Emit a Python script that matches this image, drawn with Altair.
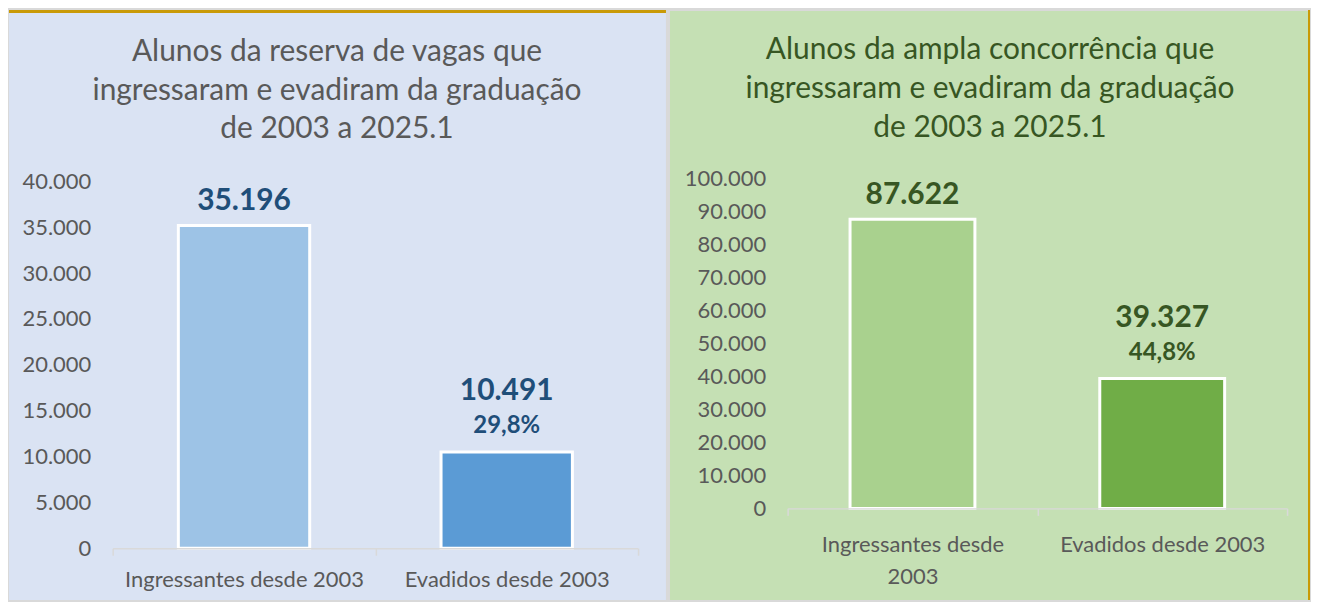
import altair as alt
import pandas as pd

FONT = "Lato"

CATEGORIES = ["Ingressantes desde 2003", "Evadidos desde 2003"]

RESERVA_VALUES = [35196, 10491]
RESERVA_PCT = ["", "29,8%"]
RESERVA_TICKS = [0, 5000, 10000, 15000, 20000, 25000, 30000, 35000, 40000]
RESERVA_TITLE = ["Alunos da reserva de vagas que",
                 "ingressaram e evadiram da graduação",
                 "de 2003 a 2025.1"]

AMPLA_VALUES = [87622, 39327]
AMPLA_PCT = ["", "44,8%"]
AMPLA_TICKS = [0, 10000, 20000, 30000, 40000, 50000, 60000, 70000, 80000, 90000, 100000]
AMPLA_TITLE = ["Alunos da ampla concorrência que",
               "ingressaram e evadiram da graduação",
               "de 2003 a 2025.1"]

AXIS_TEXT = "#595959"
GRID_GRAY = "#D9D9D9"
GOLD = "#C99A06"

PLOT_H = 368


def panel(values, pct, ticks, title_lines, colors, bg, title_color, label_color,
          w, y_range, box, title_xy, xlab_pad, label_expr=None,
          gold_top=None, gold_right=None):
    df = pd.DataFrame({"cat": CATEGORIES, "value": values, "pct": pct})
    base = alt.Chart(df)

    xaxis = dict(title=None, labelAngle=0, labelFont=FONT, labelFontSize=22,
                 labelColor=AXIS_TEXT, domainColor=GRID_GRAY, domainWidth=1.5,
                 tickColor=GRID_GRAY, tickWidth=1.5, tickSize=7, tickBand="extent",
                 labelPadding=xlab_pad, labelLineHeight=32, zindex=1, labelLimit=400,
                 offset=y_range[0] - PLOT_H)
    if label_expr:
        xaxis["labelExpr"] = label_expr
    x = alt.X("cat:N", sort=CATEGORIES,
              scale=alt.Scale(paddingInner=0, paddingOuter=0),
              axis=alt.Axis(**xaxis))
    y = alt.Y("value:Q",
              scale=alt.Scale(domain=[0, ticks[-1]], nice=False, range=y_range),
              axis=alt.Axis(title=None, values=ticks, grid=False, domain=False,
                            ticks=False, tickSize=0, labelFont=FONT, labelFontSize=22,
                            labelColor=AXIS_TEXT, labelPadding=22, zindex=1))

    one = alt.Data(values=[{}])
    layers = [alt.Chart(one).mark_rect(color=bg).encode(
        x=alt.value(box[0]), x2=alt.value(box[1]),
        y=alt.value(box[2]), y2=alt.value(box[3]))]
    for g in (gold_top, gold_right):
        if g:
            layers.append(alt.Chart(one).mark_rect(color=GOLD).encode(
                x=alt.value(g[0]), x2=alt.value(g[1]),
                y=alt.value(g[2]), y2=alt.value(g[3])))

    layers.append(alt.Chart(one).mark_text(
        text=title_lines, font=FONT, fontSize=30, lineHeight=39,
        color=title_color, align="center", baseline="middle").encode(
        x=alt.value(title_xy[0]), y=alt.value(title_xy[1])))

    bars = base.mark_bar(width=alt.RelativeBandSize(0.5), stroke="white",
                         strokeWidth=3).encode(
        x=x, y=y,
        color=alt.Color("cat:N", scale=alt.Scale(domain=CATEGORIES, range=colors),
                        legend=None))
    layers.append(bars)

    single = base.transform_filter("datum.pct == ''").mark_text(
        font=FONT, fontSize=30, fontWeight="bold", color=label_color,
        baseline="middle", dy=-24).encode(
        x=x, y=y, text=alt.Text("value:Q", format=",d"))
    double = base.transform_filter("datum.pct != ''").mark_text(
        font=FONT, fontSize=30, fontWeight="bold", color=label_color,
        baseline="middle", dy=-61).encode(
        x=x, y=y, text=alt.Text("value:Q", format=",d"))
    pcts = base.transform_filter("datum.pct != ''").mark_text(
        font=FONT, fontSize=24, fontWeight="bold", color=label_color,
        baseline="middle", dy=-26).encode(
        x=x, y=y, text="pct:N")
    layers += [single, double, pcts]

    return alt.layer(*layers).properties(width=w, height=PLOT_H)


left = panel(RESERVA_VALUES, RESERVA_PCT, RESERVA_TICKS, RESERVA_TITLE,
             ["#9DC3E6", "#5B9BD5"], "#DAE3F3", "#595959", "#1F4E79",
             527, [368, 0], (-104, 555, -172, 420), (225, -130), 14,
             gold_top=(-104, 555, -172, -169))

right = panel(AMPLA_VALUES, AMPLA_PCT, AMPLA_TICKS, AMPLA_TITLE,
              ["#A9D18E", "#70AD47"], "#C5E0B4", "#375623", "#375623",
              501, [328, -3], (-118, 522, -171, 420), (203, -132), 19,
              label_expr="datum.label == 'Ingressantes desde 2003' ? ['Ingressantes desde', '2003'] : datum.label",
              gold_right=(522, 524, -172, 420))

chart = alt.hconcat(left, right, spacing=2).resolve_scale(
    color="independent", y="independent", x="independent"
).properties(
    padding=0, background="#D9D9D9"
).configure_view(stroke=None).configure(
    locale={"number": {"decimal": ",", "thousands": ".", "grouping": [3],
                       "currency": ["R$", ""]}}
)

chart.save("out.html", embed_options={"renderer": "svg", "actions": False})
